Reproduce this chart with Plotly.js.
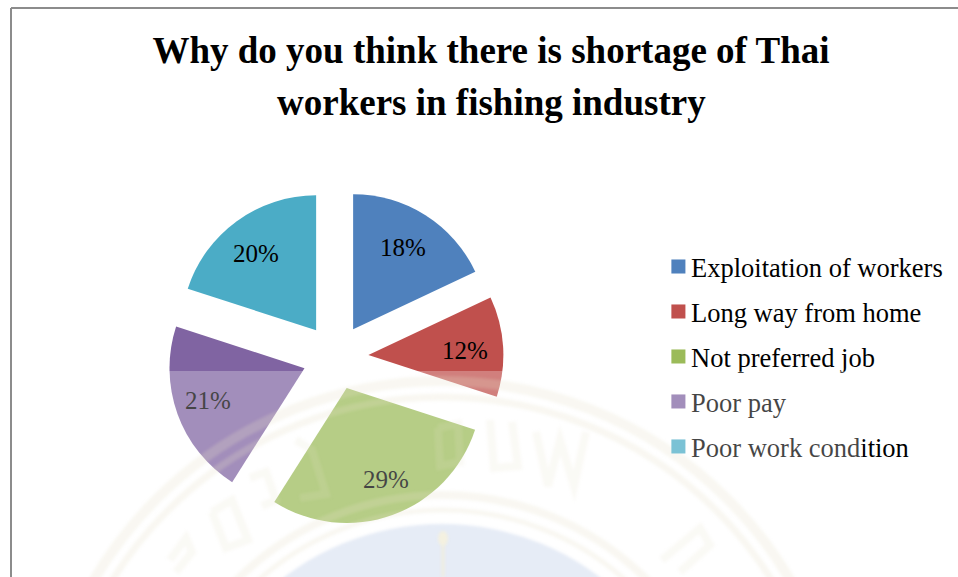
<!DOCTYPE html>
<html>
<head>
<meta charset="utf-8">
<script src="https://cdn.plot.ly/plotly-3.0.1.min.js"></script>
<style>
  html, body { margin: 0; padding: 0; background: #fff; }
  #wrap { position: relative; width: 958px; height: 577px; overflow: hidden; }
  #chart { width: 958px; height: 577px; }
  /* pale sheet lying over the lower part of the page */
  #sheet { position: absolute; left: 60px; top: 371px; width: 803px; height: 206px;
           background: rgba(255,255,255,0.27); pointer-events: none; }
</style>
</head>
<body>
<div id="wrap"><div id="chart"></div><div id="sheet"></div></div>
<script>
const categories = ['Exploitation of workers', 'Long way from home', 'Not preferred job', 'Poor pay', 'Poor work condition'];
const shares = [18, 12, 29, 21, 20];
const sliceColors = ['#4F81BD', '#C0504D', '#9BBB59', '#8064A2', '#4BACC6'];
const titleLines = ['Why do you think there is shortage of Thai', 'workers in fishing industry'];

const W = 958, H = 577;
const SERIF = '"Liberation Serif", "Times New Roman", serif';
const px = x => x / W;
const py = y => 1 - y / H;

// Pie geometry in page pixels
const pieX = 335.5, pieY = 357, pieR = 135, pullFrac = 0.244;
const labelFrac = 0.725;
const labelNudges = [[-3, 1], [-1, 2], [6, -1], [-4, -1], [-3, 2]];

// Percent labels sit at the middle angle of their exploded slice
const total = shares.reduce((a, b) => a + b, 0);
let running = 0;
const percentLabels = shares.map((v, i) => {
  const mid = (running + v / 2) / total * 2 * Math.PI;
  running += v;
  const dist = (pullFrac + labelFrac) * pieR;
  return {
    text: Math.round(v / total * 100) + '%', xref: 'paper', yref: 'paper',
    x: px(pieX + dist * Math.sin(mid) + labelNudges[i][0]),
    y: py(pieY - dist * Math.cos(mid) + labelNudges[i][1]),
    xanchor: 'center', yanchor: 'middle', showarrow: false,
    font: { family: SERIF, size: 25, color: '#000' }
  };
});

// University seal printed behind the page: concentric bands around one centre
const sealX = 442, sealY = 785;
const ringSpecs = [[404, 10], [388, 7], [290, 8], [275, 5]];
const ringShapes = ringSpecs.map(([r, w]) => ({
  type: 'circle', layer: 'above', xref: 'paper', yref: 'paper',
  x0: px(sealX - r), x1: px(sealX + r), y0: py(sealY + r), y1: py(sealY - r),
  line: { color: 'rgba(222,212,178,0.24)', width: w }, fillcolor: 'rgba(0,0,0,0)'
}));
const discShape = {
  type: 'circle', layer: 'above', xref: 'paper', yref: 'paper',
  x0: px(sealX - 261), x1: px(sealX + 261), y0: py(sealY + 261), y1: py(sealY - 261),
  line: { width: 0 }, fillcolor: 'rgba(170,190,225,0.40)'
};

// Worn lettering of the seal, reduced to soft strokes
const strokes = [
  [[250, 478], [266, 472], [276, 500], [262, 506]],
  [[296, 440], [312, 450], [326, 494], [300, 498]],
  [[438, 428], [458, 424], [460, 462], [440, 466], [438, 428]],
  [[490, 420], [494, 468], [518, 466], [512, 422]],
  [[536, 432], [548, 486], [560, 440], [574, 486], [586, 432]],
  [[662, 560], [700, 528], [710, 545], [680, 572]],
  [[170, 560], [186, 538], [192, 552], [176, 572]],
  [[212, 512], [232, 500], [248, 540], [226, 548], [212, 512]]
];
const strokeShapes = strokes.map(pts => ({
  type: 'path', layer: 'above', xref: 'paper', yref: 'paper',
  path: pts.map((p, i) => (i ? 'L' : 'M') + px(p[0]) + ',' + py(p[1])).join(' '),
  line: { color: 'rgba(222,212,178,0.17)', width: 8 }
}));
const finial = [
  { type: 'line', layer: 'above', xref: 'paper', yref: 'paper', x0: px(443), x1: px(443), y0: py(545), y1: py(577),
    line: { color: 'rgba(240,232,200,0.7)', width: 3 } },
  { type: 'circle', layer: 'above', xref: 'paper', yref: 'paper', x0: px(438), x1: px(448), y0: py(546), y1: py(531),
    fillcolor: 'rgba(245,238,205,0.8)', line: { width: 0 } }
];

// Chart frame: only the top and left edges are on the page
const frame = [
  { type: 'line', layer: 'below', xref: 'paper', yref: 'paper', x0: px(11), x1: 1, y0: py(8), y1: py(8),
    line: { color: '#8c8c8c', width: 2 } },
  { type: 'line', layer: 'below', xref: 'paper', yref: 'paper', x0: px(11), x1: px(11), y0: py(8), y1: 0,
    line: { color: '#8c8c8c', width: 2 } }
];

const trace = {
  type: 'pie',
  labels: categories.map(c => '<span style="font-size:26.5px">' + c + '</span>'),
  values: shares,
  sort: false,
  direction: 'clockwise',
  rotation: 0,
  pull: pullFrac,
  domain: {
    x: [px(pieX - pieR * (1 + pullFrac)), px(pieX + pieR * (1 + pullFrac))],
    y: [py(pieY + pieR * (1 + pullFrac)), py(pieY - pieR * (1 + pullFrac))]
  },
  marker: { colors: sliceColors, line: { width: 0 } },
  textinfo: 'none',
  hoverinfo: 'skip'
};

const layout = {
  width: W, height: H,
  margin: { l: 0, r: 0, t: 0, b: 0 },
  paper_bgcolor: '#fff',
  showlegend: true,
  legend: {
    x: px(651), xanchor: 'left', y: py(237), yanchor: 'top',
    font: { family: SERIF, size: 32.3, color: '#000' },
    bgcolor: 'rgba(0,0,0,0)', borderwidth: 0
  },
  title: {
    text: titleLines[0], x: px(491), xanchor: 'center', xref: 'paper',
    y: py(50), yanchor: 'middle', yref: 'paper',
    font: { family: SERIF, size: 37, color: '#000', weight: 700 }
  },
  annotations: [{
    text: titleLines[1], xref: 'paper', yref: 'paper', x: px(491), y: py(102),
    xanchor: 'center', yanchor: 'middle', showarrow: false,
    font: { family: SERIF, size: 37, color: '#000', weight: 700 }
  }, ...percentLabels],
  shapes: [...frame, discShape, ...ringShapes, ...strokeShapes, ...finial]
};

Plotly.newPlot('chart', [trace], layout, { displayModeBar: false, staticPlot: true }).then(gd => {
  // Swatches sit closer to their labels and slightly larger than the default
  gd.querySelectorAll('.legend .legendpoints').forEach(g => {
    g.setAttribute('transform', 'translate(4,2) scale(1.17)');
  });
  // The printed seal is soft-edged
  gd.querySelectorAll('.shapelayer path').forEach(p => {
    if (p.style.stroke !== 'rgb(140, 140, 140)') p.style.filter = 'blur(1.6px)';
  });
});
</script>
</body>
</html>
